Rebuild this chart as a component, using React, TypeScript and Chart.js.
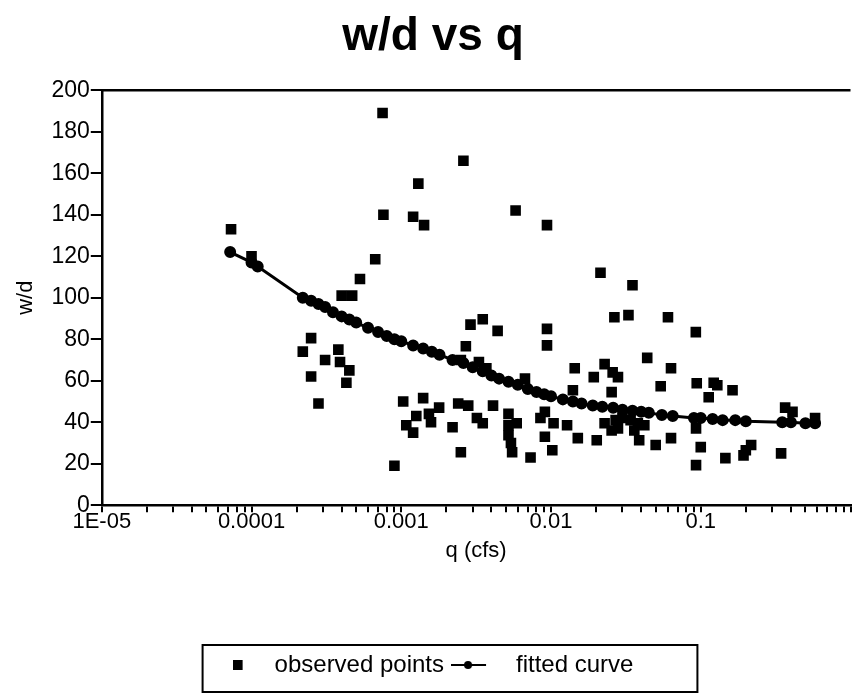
import React, { useEffect, useRef } from 'react';
import { Chart, registerables } from 'chart.js';

Chart.register(...registerables);

// ---- data ----
const obsQ = [
  7.3e-5, 1.0e-4, 2.2e-4, 2.5e-4, 2.5e-4, 2.8e-4, 3.1e-4, 3.8e-4, 3.9e-4, 4.0e-4,
  4.3e-4, 4.5e-4, 4.7e-4, 5.3e-4, 6.7e-4, 7.5e-4, 7.6e-4, 9.0e-4, 1.03e-3, 1.08e-3,
  1.2e-3, 1.2e-3, 1.26e-3, 1.3e-3, 1.4e-3, 1.42e-3, 1.53e-3, 1.58e-3, 1.79e-3, 2.2e-3,
  2.4e-3, 2.5e-3, 2.5e-3, 2.6e-3, 2.7e-3, 2.8e-3, 2.9e-3, 3.2e-3, 3.3e-3, 3.5e-3,
  3.5e-3, 3.7e-3, 4.1e-3, 4.4e-3, 5.2e-3, 5.2e-3, 5.2e-3, 5.4e-3, 5.5e-3, 5.8e-3,
  5.9e-3, 6.7e-3, 7.3e-3, 8.5e-3, 9.1e-3, 9.1e-3, 9.4e-3, 9.4e-3, 9.4e-3, 0.0102,
  0.0104, 0.0128, 0.014, 0.0144, 0.0151, 0.0193, 0.0202, 0.0214, 0.0228, 0.0228,
  0.0254, 0.0254, 0.0258, 0.0265, 0.028, 0.0329, 0.035, 0.0388, 0.0439, 0.05,
  0.054, 0.0604, 0.0633, 0.0633, 0.0927, 0.093, 0.093, 0.094, 0.1, 0.113,
  0.122, 0.129, 0.146, 0.163, 0.193, 0.2, 0.217, 0.344, 0.366, 0.41,
  0.58, 0.027, 0.03, 0.034, 0.038, 0.042, 0.028, 0.036,
];
const obsWD = [
  133, 120, 74, 80.5, 62, 49, 70, 75, 69, 101,
  59, 65, 101, 109, 118.5, 189, 140, 19, 50, 38.5,
  35, 139, 43, 155, 51.6, 135, 44, 40, 47, 37.6,
  49, 25.5, 70, 166, 76.6, 48, 87, 42, 69, 89.6,
  39.5, 66, 48, 84, 44, 38.5, 33.7, 30, 25.5, 142,
  39.5, 61, 23, 42, 45, 33, 135, 85, 77, 26.5,
  39.5, 38.5, 55.4, 66, 32.3, 61.7, 31.3, 112, 68, 39.5,
  54.5, 36, 64, 90.6, 61.7, 91.6, 106, 31.3, 71, 29,
  57.3, 90.6, 66, 32.3, 83.4, 37, 19.3, 58.8, 28, 52,
  59, 57.8, 22.7, 55.4, 24, 26.5, 29, 25, 47, 45,
  42, 41, 42, 41, 39.5, 38.5, 37, 36,
];
const fitQ = [
  7.2e-5, 1.0e-4, 1.1e-4, 2.2e-4, 2.5e-4, 2.8e-4, 3.1e-4, 3.5e-4, 4.0e-4, 4.5e-4,
  5.0e-4, 6.0e-4, 7.0e-4, 8.0e-4, 9.0e-4, 1.0e-3, 1.2e-3, 1.4e-3, 1.6e-3, 1.8e-3,
  2.2e-3, 2.6e-3, 3.0e-3, 3.5e-3, 4.0e-3, 4.5e-3, 5.2e-3, 6.0e-3, 7.0e-3, 8.0e-3,
  9.0e-3, 0.010, 0.012, 0.014, 0.016, 0.019, 0.022, 0.026, 0.030, 0.035,
  0.040, 0.045, 0.055, 0.065, 0.09, 0.10, 0.12, 0.14, 0.17, 0.2,
  0.35, 0.4, 0.5, 0.58,
];
const fitWD = [
  122, 117, 115, 100, 98.5, 97, 95.5, 93, 91, 89.5,
  88, 85.5, 83.5, 81.5, 80, 79, 77, 75.5, 74, 72.5,
  70, 68.5, 66.5, 64.5, 62.5, 61, 59.5, 58, 56, 54.5,
  53.5, 52.5, 51, 50, 49, 48, 47.5, 47, 46, 45.5,
  45, 44.5, 43.5, 43, 42, 42, 41.5, 41, 41, 40.5,
  40, 40, 39.5, 39.5,
];
const xDecades = [1e-5, 1e-4, 1e-3, 1e-2, 1e-1];
const xDecadeLabels = ['1E-05', '0.0001', '0.001', '0.01', '0.1'];
const xMinorSteps = [1, 2, 3, 4, 5, 6, 7, 8, 9];
const xMin = 1e-5;
const xMax = 1;
const yMin = 0;
const yMax = 200;
const yStep = 20;

const FONT = "'Liberation Sans', Arial, Helvetica, sans-serif";

export default function App() {
  const ref = useRef<HTMLCanvasElement | null>(null);

  useEffect(() => {
    const canvas = ref.current;
    if (!canvas) return;

    // legend marker images
    const sq = document.createElement('canvas');
    sq.width = 30; sq.height = 12;
    const sctx = sq.getContext('2d')!;
    sctx.fillStyle = '#000';
    sctx.fillRect(0, 1, 10, 10);

    const ln = document.createElement('canvas');
    ln.width = 76; ln.height = 12;
    const lctx = ln.getContext('2d')!;
    lctx.strokeStyle = '#000';
    lctx.lineWidth = 2;
    lctx.beginPath(); lctx.moveTo(0, 6); lctx.lineTo(35, 6); lctx.stroke();
    lctx.fillStyle = '#000';
    lctx.beginPath(); lctx.arc(17, 6, 4, 0, Math.PI * 2); lctx.fill();

    const framePlugin = {
      id: 'frameAndLegendBox',
      afterDraw(chart: any) {
        const { ctx, chartArea } = chart;
        ctx.save();
        ctx.strokeStyle = '#000';
        ctx.lineWidth = 2.5;
        ctx.beginPath();
        ctx.moveTo(chartArea.left, chartArea.top);
        ctx.lineTo(chartArea.right, chartArea.top);
        ctx.stroke();
        const hb = chart.legend && chart.legend.legendHitBoxes;
        if (hb && hb.length) {
          const first = hb[0];
          const last = hb[hb.length - 1];
          const l = first.left - 30;
          const r = last.left + last.width + 64;
          const t = first.top - 8;
          const b = first.top + 39;
          ctx.lineWidth = 2;
          ctx.strokeRect(l, t, r - l, b - t);
        }
        ctx.restore();
      },
    };

    const chart = new Chart(canvas, {
      type: 'scatter',
      data: {
        datasets: [
          {
            label: 'observed points',
            data: obsQ.map((q, i) => ({ x: q, y: obsWD[i] })),
            pointStyle: 'rect',
            pointRadius: 7.5,
            backgroundColor: '#000',
            borderColor: '#000',
            borderWidth: 0,
          },
          {
            label: 'fitted curve',
            data: fitQ.map((q, i) => ({ x: q, y: fitWD[i] })),
            showLine: true,
            borderColor: '#000',
            borderWidth: 3,
            pointStyle: 'circle',
            pointRadius: 4.5,
            pointBackgroundColor: '#000',
            pointBorderColor: '#000',
            backgroundColor: '#000',
          },
        ],
      },
      options: {
        responsive: false,
        animation: false,
        events: [],
        layout: { padding: { left: 8, right: 0, top: 0, bottom: 7 } },
        scales: {
          x: {
            type: 'logarithmic',
            min: xMin,
            max: xMax,
            afterBuildTicks: (scale: any) => {
              const ticks: any[] = [];
              xDecades.forEach((d) => xMinorSteps.forEach((m) => ticks.push({ value: d * m })));
              ticks.push({ value: xMax });
              scale.ticks = ticks;
            },
            ticks: {
              autoSkip: false,
              maxRotation: 0,
              minRotation: 0,
              padding: -3,
              color: '#000',
              font: { family: FONT, size: 22 },
              callback: (_v: any, index: number) =>
                index % 9 === 0 ? (xDecadeLabels[index / 9] ?? '') : '',
            },
            grid: {
              drawOnChartArea: false,
              drawTicks: true,
              tickLength: 7,
              color: '#000',
              lineWidth: 2,
            },
            border: { display: true, color: '#000', width: 2.5 },
            title: {
              display: true,
              text: 'q (cfs)',
              color: '#000',
              font: { family: FONT, size: 22 },
              padding: { top: 5, bottom: 59 },
            },
          },
          y: {
            type: 'linear',
            min: yMin,
            max: yMax,
            ticks: {
              stepSize: yStep,
              padding: 1,
              color: '#000',
              font: { family: FONT, size: 23 },
            },
            grid: {
              drawOnChartArea: false,
              drawTicks: true,
              tickLength: 11,
              color: '#000',
              lineWidth: 2,
            },
            border: { display: true, color: '#000', width: 2.5 },
            title: {
              display: true,
              text: 'w/d',
              color: '#000',
              font: { family: FONT, size: 22 },
              padding: { top: 5, bottom: 11 },
            },
          },
        },
        plugins: {
          tooltip: { enabled: false },
          title: {
            display: true,
            text: 'w/d vs q',
            color: '#000',
            font: { family: FONT, size: 46, weight: 'bold' },
            padding: { top: 10, bottom: 25 },
          },
          legend: {
            display: true,
            position: 'bottom',
            onClick: () => {},
            labels: {
              usePointStyle: true,
              pointStyleWidth: 30,
              padding: 30,
              color: '#000',
              font: { family: FONT, size: 24 },
              generateLabels: () => [
                {
                  text: 'observed points',
                  pointStyle: sq,
                  fillStyle: '#000',
                  strokeStyle: '#000',
                  lineWidth: 0,
                  hidden: false,
                  datasetIndex: 0,
                  fontColor: '#000',
                } as any,
                {
                  text: 'fitted curve',
                  pointStyle: ln,
                  fillStyle: '#000',
                  strokeStyle: '#000',
                  lineWidth: 0,
                  hidden: false,
                  datasetIndex: 1,
                  fontColor: '#000',
                } as any,
              ],
            },
          },
        },
      } as any,
      plugins: [framePlugin],
    });

    return () => chart.destroy();
  }, []);

  return (
    <div style={{ position: 'absolute', left: 0, top: 0, width: 858, height: 694, background: '#fff' }}>
      <canvas ref={ref} width={858} height={694} style={{ display: 'block' }} />
    </div>
  );
}
